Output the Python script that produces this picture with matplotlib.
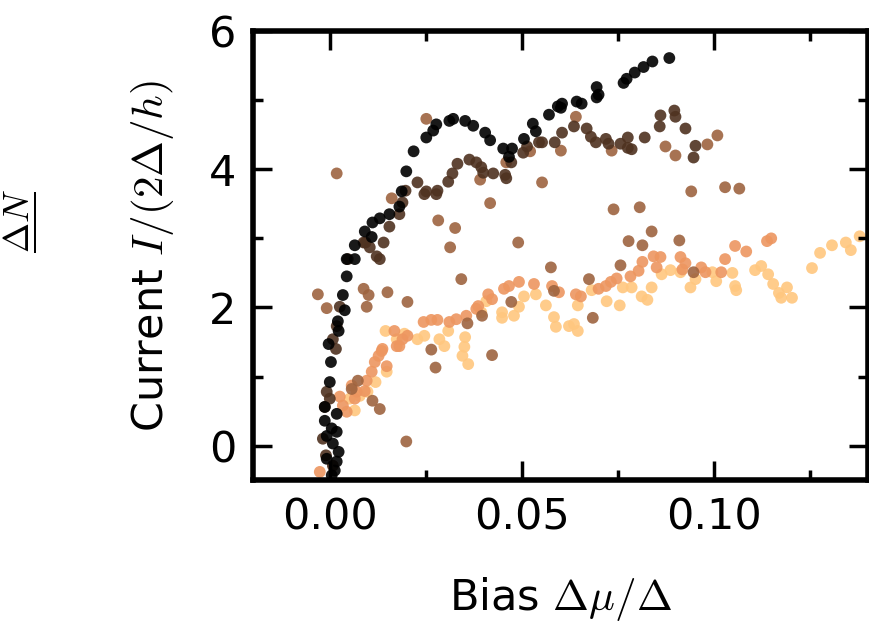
import numpy as np
import matplotlib.pyplot as plt
from matplotlib.ticker import MultipleLocator

plt.rcParams['mathtext.fontset'] = 'cm'

# Bias values (x) and currents (y) for each curve
bias_0 = [0.0005, 0.0013, 0.0018, -0.0008, 0.0023, 0.0008, 0.0018, -0.0008, 0.0005, -0.0013,
          0.0018, -0.0013, 0.0, 0.0003, -0.0003, 0.0023, 0.0021, 0.0039, 0.0034, 0.0044,
          0.0044, 0.0065, 0.0065, 0.0091, 0.0109, 0.0111, 0.0130, 0.0155, 0.0181, 0.0187,
          0.0199, 0.0218, 0.0251, 0.0269, 0.0277, 0.0311, 0.0321, 0.0352, 0.0373, 0.0404,
          0.0417, 0.0451, 0.0466, 0.0474, 0.0505, 0.0536, 0.0528, 0.0570, 0.0593, 0.0601,
          0.0604, 0.0642, 0.0655, 0.0694, 0.0699, 0.0694, 0.0764, 0.0772, 0.0793, 0.0816,
          0.0839, 0.0883]
curr_0 = [-0.43, -0.36, -0.23, -0.19, -0.09, 0.03, 0.20, 0.14, 0.25, 0.36,
          0.46, 0.56, 0.92, 1.21, 1.47, 1.66, 1.80, 1.96, 2.18, 2.45,
          2.70, 2.70, 2.90, 3.10, 3.02, 3.23, 3.29, 3.35, 3.46, 3.68,
          3.97, 4.26, 4.46, 4.56, 4.65, 4.70, 4.73, 4.70, 4.63, 4.53,
          4.42, 4.30, 4.18, 4.30, 4.44, 4.55, 4.66, 4.79, 4.91, 4.89,
          4.95, 4.98, 4.95, 5.04, 5.08, 5.19, 5.25, 5.31, 5.40, 5.48,
          5.56, 5.61]

bias_1 = [-0.0010, 0.0008, -0.0018, -0.0013, 0.0, -0.0008, 0.0016, 0.0008, 0.0018, 0.0026,
          0.0047, 0.0088, 0.0093, 0.0104, 0.0122, 0.0130, 0.0140, 0.0155, 0.0181, 0.0189,
          0.0197, 0.0228, 0.0246, 0.0251, 0.0277, 0.0280, 0.0308, 0.0319, 0.0332, 0.0363,
          0.0381, 0.0394, 0.0399, 0.0425, 0.0456, 0.0459, 0.0472, 0.0503, 0.0513, 0.0544,
          0.0552, 0.0585, 0.0604, 0.0635, 0.0668, 0.0679, 0.0692, 0.0718, 0.0725, 0.0756,
          0.0775, 0.0775, 0.0785, 0.0819, 0.0858, 0.0860, 0.0896, 0.0899, 0.0925, 0.0951,
          0.0946]
curr_1 = [-0.14, -0.29, 0.10, 0.56, 0.68, 0.78, 1.40, 1.54, 1.73, 2.01,
          2.70, 2.94, 2.94, 2.87, 2.74, 2.70, 2.94, 3.17, 3.35, 3.52,
          3.69, 3.81, 3.64, 3.68, 3.64, 3.69, 3.82, 3.94, 4.08, 4.14,
          4.10, 4.03, 3.95, 3.94, 3.92, 3.87, 4.10, 4.24, 4.33, 4.39,
          4.39, 4.39, 4.53, 4.62, 4.59, 4.47, 4.39, 4.44, 4.37, 4.37,
          4.46, 4.31, 4.29, 4.46, 4.62, 4.78, 4.85, 4.76, 4.59, 4.34,
          4.17]

bias_2 = [0.0199, 0.0073, 0.0057, 0.0111, 0.0130, -0.0031, -0.0008, 0.0088, 0.0101, 0.0096,
          0.0150, 0.0202, 0.0264, 0.0275, 0.0358, 0.0396, 0.0422, 0.0472, 0.0342, 0.0282,
          0.0326, 0.0313, 0.0417, 0.0490, 0.0575, 0.0018, 0.0161, 0.0251, 0.0391, 0.0459,
          0.0521, 0.0552, 0.0601, 0.0640, 0.0733, 0.0873, 0.0899, 0.0982, 0.1008, 0.0940,
          0.1028, 0.1065, 0.0738, 0.0806, 0.0837, 0.0777, 0.0813, 0.0909, 0.0756, 0.0674,
          0.0583, 0.0684, 0.0946]
curr_2 = [0.06, 0.94, 0.82, 0.65, 0.53, 2.19, 1.99, 2.27, 2.18, 2.01,
          2.22, 2.08, 1.39, 1.13, 1.77, 1.88, 1.31, 2.08, 2.41, 3.26,
          3.15, 2.87, 3.51, 2.94, 2.58, 3.94, 3.58, 4.73, 3.85, 4.10,
          4.26, 3.81, 4.27, 4.76, 4.27, 4.33, 4.20, 4.36, 4.49, 3.68,
          3.74, 3.72, 3.42, 3.45, 3.10, 2.96, 2.90, 2.97, 2.61, 2.41,
          2.24, 1.85, 2.51]

bias_3 = [-0.0026, 0.0026, 0.0034, 0.0044, 0.0057, 0.0070, 0.0065, 0.0091, 0.0096, 0.0109,
          0.0117, 0.0127, 0.0135, 0.0148, 0.0137, 0.0168, 0.0174, 0.0189, 0.0181, 0.0202,
          0.0244, 0.0264, 0.0280, 0.0311, 0.0329, 0.0355, 0.0381, 0.0386, 0.0412, 0.0422,
          0.0453, 0.0466, 0.0492, 0.0531, 0.0578, 0.0596, 0.0640, 0.0653, 0.0699, 0.0718,
          0.0731, 0.0746, 0.0782, 0.0803, 0.0813, 0.0842, 0.0860, 0.0850, 0.0912, 0.0925,
          0.0917, 0.0966, 0.0977, 0.1018, 0.1028, 0.1054, 0.1083, 0.1137, 0.1148]
curr_3 = [-0.38, 0.71, 0.58, 0.49, 0.87, 0.78, 0.68, 0.79, 0.94, 1.07,
          1.21, 1.30, 1.37, 1.15, 1.40, 1.66, 1.44, 1.54, 1.44, 1.59,
          1.79, 1.82, 1.82, 1.79, 1.83, 1.88, 1.98, 2.02, 2.19, 2.12,
          2.27, 2.31, 2.37, 2.34, 2.31, 2.22, 2.19, 2.16, 2.27, 2.31,
          2.37, 2.42, 2.45, 2.53, 2.66, 2.74, 2.73, 2.58, 2.73, 2.64,
          2.55, 2.58, 2.51, 2.51, 2.70, 2.89, 2.81, 2.96, 3.00]

bias_4 = [0.0052, 0.0065, 0.0078, 0.0098, 0.0119, 0.0148, 0.0145, 0.0174, 0.0194, 0.0228,
          0.0246, 0.0285, 0.0298, 0.0308, 0.0352, 0.0350, 0.0345, 0.0360, 0.0394, 0.0407,
          0.0448, 0.0448, 0.0479, 0.0492, 0.0505, 0.0536, 0.0562, 0.0583, 0.0588, 0.0622,
          0.0635, 0.0645, 0.0645, 0.0681, 0.0720, 0.0754, 0.0762, 0.0785, 0.0811, 0.0826,
          0.0837, 0.0863, 0.0886, 0.0912, 0.0938, 0.0951, 0.0995, 0.1005, 0.1047, 0.1054,
          0.1057, 0.1106, 0.1122, 0.1140, 0.1153, 0.1168, 0.1174, 0.1189, 0.1202, 0.1254,
          0.1275, 0.1306, 0.1342, 0.1355, 0.1378]
curr_4 = [0.68, 0.51, 0.72, 0.78, 0.92, 1.07, 1.66, 1.54, 1.62, 1.54,
          1.59, 1.54, 1.44, 1.66, 1.57, 1.43, 1.30, 1.18, 1.93, 2.09,
          1.93, 1.85, 1.88, 2.01, 2.16, 2.19, 2.03, 1.86, 1.72, 1.73,
          1.76, 1.66, 2.03, 2.25, 2.09, 2.03, 2.29, 2.29, 2.16, 2.11,
          2.29, 2.48, 2.54, 2.51, 2.29, 2.41, 2.51, 2.38, 2.50, 2.31,
          2.25, 2.54, 2.60, 2.48, 2.34, 2.21, 2.14, 2.29, 2.14, 2.57,
          2.79, 2.90, 2.94, 2.83, 3.03]

biases = [bias_0, bias_1, bias_2, bias_3, bias_4]
currents = [curr_0, curr_1, curr_2, curr_3, curr_4]
shades = [0.0, 0.25, 0.5, 0.75, 1.0]

fig = plt.figure(figsize=(8.69, 6.22), dpi=100)
ax = fig.add_axes([0.291, 0.228, 0.708, 0.722])

# lightest first so the dark curves end up on top
for i in reversed(range(len(biases))):
    ax.scatter(biases[i], currents[i], s=72, color=plt.cm.copper(shades[i]),
               edgecolors='none', alpha=0.9)

ax.set_xlim(-0.02, 0.14)
ax.set_ylim(-0.5, 6)
ax.set_xticks([0.0, 0.05, 0.10])
ax.set_yticks([0, 2, 4, 6])
ax.xaxis.set_minor_locator(MultipleLocator(0.025))
ax.yaxis.set_minor_locator(MultipleLocator(1))
ax.tick_params(which='both', direction='in', top=True, right=True, width=2.5)
ax.tick_params(which='major', length=14, labelsize=31, pad=12)
ax.tick_params(which='minor', length=7)
for sp in ax.spines.values():
    sp.set_linewidth(4)

ax.set_xlabel(r'Bias $\Delta\mu/\Delta$', fontsize=31, labelpad=26)
ax.set_ylabel(r'Current $I/(2\Delta/h)$', fontsize=31, labelpad=24)
fig.text(0.036, 0.645, r'$\dfrac{\Delta N}{\ }$', fontsize=26, rotation=90,
         ha='center', va='center')

fig.savefig('out.png', dpi=100)
